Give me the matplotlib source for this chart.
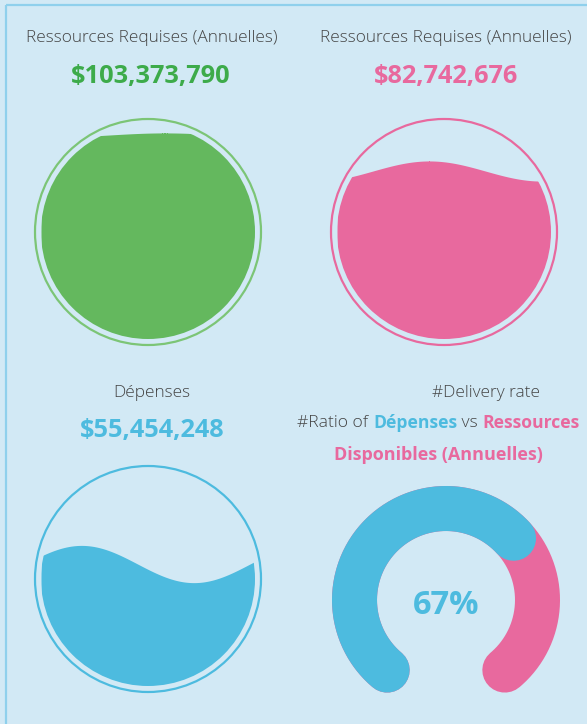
import numpy as np
import matplotlib
matplotlib.use("Agg")
import matplotlib.pyplot as plt
from matplotlib.patches import Circle

plt.rcParams['font.family'] = ['Open Sans', 'DejaVu Sans']

# data
titles = ["Ressources Requises (Annuelles)", "Ressources Requises (Annuelles)", "Dépenses"]
values = ["$103,373,790", "$82,742,676", "$55,454,248"]
fill_levels = [0.953, 0.785, 0.57]     # share of circle filled
wave_amp = [0.01, 0.047, 0.087]        # wave amplitude (fraction of diameter)
wave_phase = [0.55, 0.41, 0.18]        # crest position (fraction of wave)
colors = ["#64b85e", "#e8699e", "#4dbbdf"]
ring_colors = ["#7cc576", "#e8699e", "#4dbbdf"]
text_colors = ["#3dab4a", "#e8699e", "#4dbbdf"]
ratio_pct = 67

bg = "#d2e9f5"
gray = "#444444"

fig = plt.figure(figsize=(5.87, 7.24), dpi=100)
fig.patch.set_facecolor(bg)
ax = fig.add_axes([0, 0, 1, 1])
ax.set_xlim(0, 587)
ax.set_ylim(724, 0)
ax.set_aspect('equal')
ax.axis('off')

# frame
ax.plot([6, 6], [724, 5], color="#8fd0ec", lw=1.6, solid_capstyle='butt')
ax.plot([6, 587], [5, 5], color="#8fd0ec", lw=1.6, solid_capstyle='butt')

centers = [(148, 232), (444, 232), (148, 579)]
title_pos = [(152, 38), (446, 38), (152, 393)]
value_pos = [(151, 76), (446, 76), (152, 430)]
R_ring, R_in = 113, 107

for i in range(3):
    cx, cy = centers[i]
    ax.add_patch(Circle((cx, cy), R_ring, fill=False, ec=ring_colors[i], lw=1.6))
    clip = Circle((cx, cy), R_in, transform=ax.transData)
    x = np.linspace(cx - R_in, cx + R_in, 300)
    level = cy + R_in - fill_levels[i] * 2 * R_in
    amp = wave_amp[i] * 2 * R_in
    wl = 2 * R_in * 1.05
    y = level - amp * np.cos(2 * np.pi * ((x - (cx - R_in)) / wl - wave_phase[i]))
    poly = ax.fill_between(x, y, cy + R_in + 2, color=colors[i], lw=0)
    poly.set_clip_path(clip)
    ax.text(title_pos[i][0], title_pos[i][1], titles[i], ha='center', va='center',
            fontsize=12.4, color=gray, fontweight='light')
    ax.text(value_pos[i][0], value_pos[i][1], values[i], ha='center', va='center',
            fontsize=18.3, color=text_colors[i], fontweight='bold')

# gauge
gx, gy = 446, 600
r_mid = 91.5
lw_pt = 45 * 72 / 100
a0, a1 = 230, -50
t = np.linspace(np.radians(a0), np.radians(a1), 300)
ax.plot(gx + r_mid * np.cos(t), gy - r_mid * np.sin(t), color="#e8699e",
        lw=lw_pt, solid_capstyle='round')
a_split = a0 - (a0 - a1) * ratio_pct / 100
t = np.linspace(np.radians(a0), np.radians(a_split), 300)
ax.plot(gx + r_mid * np.cos(t), gy - r_mid * np.sin(t), color="#4dbbdf",
        lw=lw_pt, solid_capstyle='round')
ax.text(gx, gy + 5, f"{ratio_pct}%", ha='center', va='center', fontsize=23.5,
        fontweight='bold', color="#4dbbdf")

# caption with mixed colours
ax.text(486, 393, "#Delivery rate", ha='center', va='center', fontsize=12.4,
        color=gray, fontweight='light')
pieces = [("#Ratio of ", gray, 'light'), ("Dépenses", "#4dbbdf", 'bold'),
          (" vs ", gray, 'light'), ("Ressources", "#e8699e", 'bold')]
fig.canvas.draw()
r = fig.canvas.get_renderer()
objs = []
for s, c, w in pieces:
    objs.append(ax.text(0, 423, s, ha='left', va='center', fontsize=12.6, color=c, fontweight=w))
widths = [o.get_window_extent(r).width for o in objs]
x0 = 438.5 - sum(widths) / 2
for o, w in zip(objs, widths):
    o.set_x(x0)
    x0 += w
ax.text(438.5, 455, "Disponibles (Annuelles)", ha='center', va='center', fontsize=13,
        color="#e8699e", fontweight='bold')

fig.savefig("out.png", dpi=100, facecolor=bg)
